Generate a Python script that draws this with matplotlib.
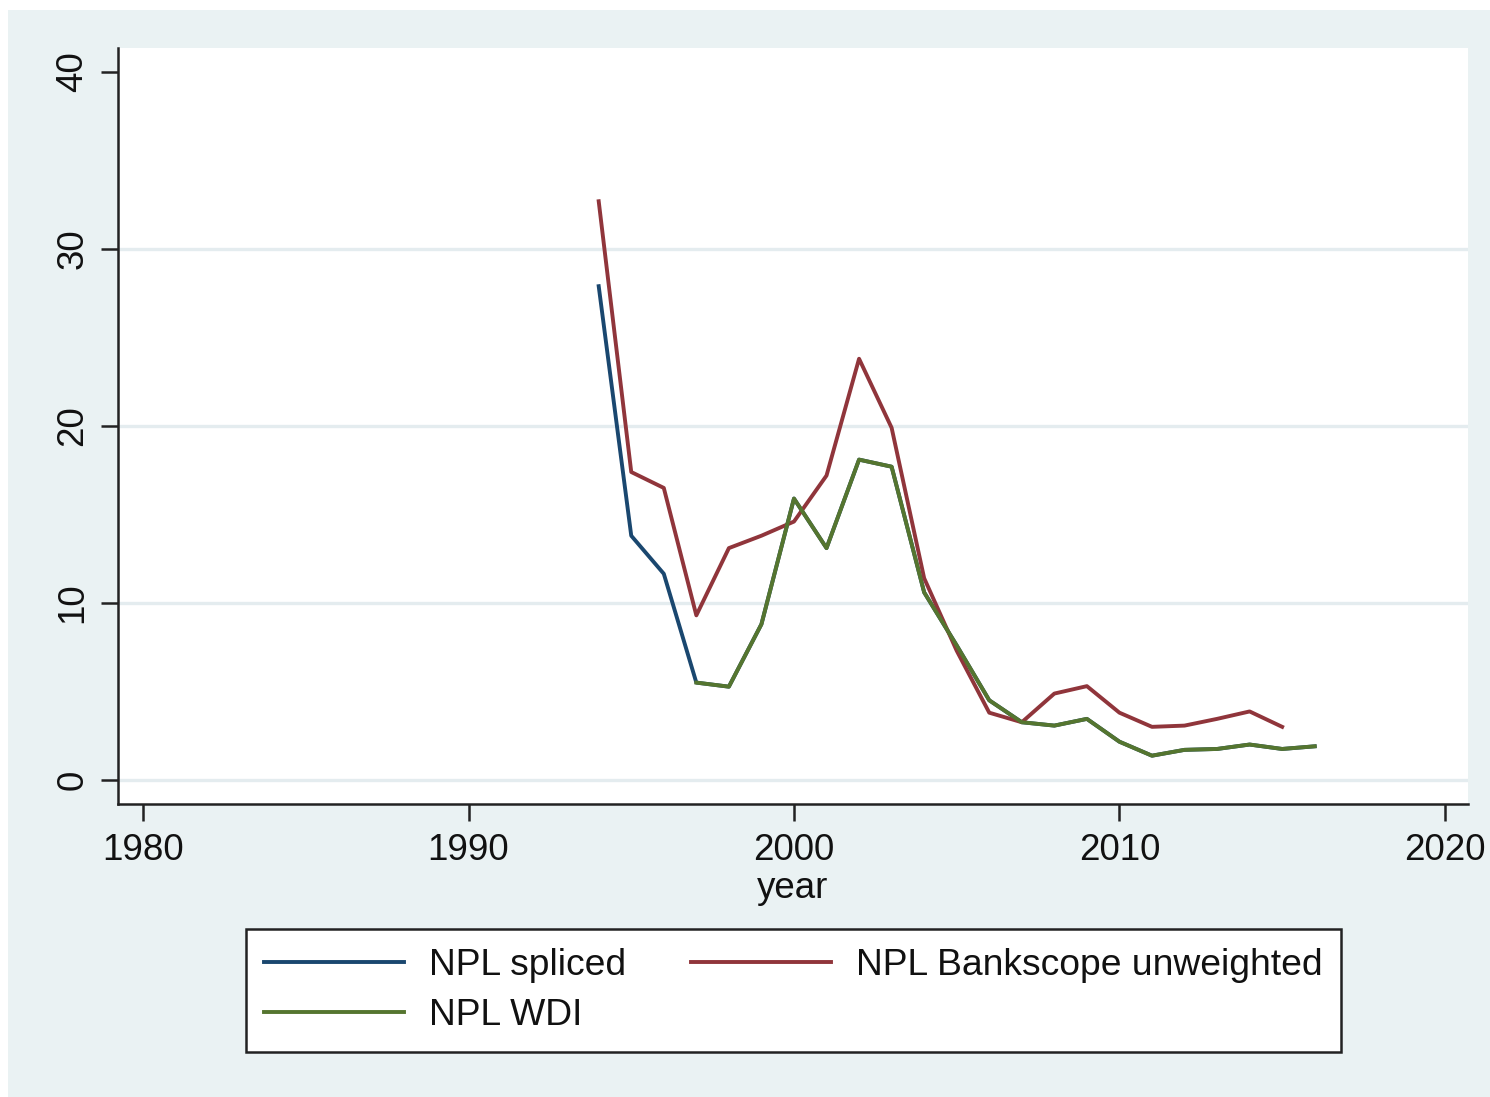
import matplotlib
matplotlib.use("Agg")
import matplotlib.pyplot as plt
from matplotlib.patches import Rectangle

plt.rcParams['font.family'] = ['Liberation Sans', 'DejaVu Sans']

# Non-performing loan ratios (%), by year
years_spliced = [1994, 1995, 1996, 1997, 1998, 1999, 2000, 2001, 2002, 2003, 2004,
                 2005, 2006, 2007, 2008, 2009, 2010, 2011, 2012, 2013, 2014, 2015, 2016]
npl_spliced = [27.9, 13.8, 11.65, 5.5, 5.27, 8.8, 15.9, 13.1, 18.1, 17.7, 10.6,
               7.6, 4.5, 3.26, 3.07, 3.45, 2.16, 1.37, 1.7, 1.75, 2.0, 1.75, 1.9]

years_bankscope = [1994, 1995, 1996, 1997, 1998, 1999, 2000, 2001, 2002, 2003, 2004,
                   2005, 2006, 2007, 2008, 2009, 2010, 2011, 2012, 2013, 2014, 2015]
npl_bankscope = [32.7, 17.4, 16.5, 9.3, 13.1, 13.8, 14.6, 17.2, 23.8, 19.9, 11.4,
                 7.3, 3.8, 3.26, 4.88, 5.3, 3.8, 3.0, 3.07, 3.45, 3.87, 3.0]

years_wdi = [1997, 1998, 1999, 2000, 2001, 2002, 2003, 2004, 2005, 2006, 2007,
             2008, 2009, 2010, 2011, 2012, 2013, 2014, 2015, 2016]
npl_wdi = [5.5, 5.27, 8.8, 15.9, 13.1, 18.1, 17.7, 10.6, 7.6, 4.5, 3.26,
           3.07, 3.45, 2.16, 1.37, 1.7, 1.75, 2.0, 1.75, 1.9]

x_ticks = [1980, 1990, 2000, 2010, 2020]
y_ticks = [0, 10, 20, 30, 40]
grid_levels = [0, 10, 20, 30]

NAVY = '#1a476f'
MAROON = '#90353b'
GREEN = '#55752f'
REGION = '#eaf2f3'
GRID = '#e4ecef'
INK = '#111111'
FS = 26.5

W, H = 1490, 1097
fig = plt.figure(figsize=(W / 100, H / 100), dpi=100, facecolor='white')

# graph region background
fig.patches.append(Rectangle((8 / W, 0), (W - 8) / W, (H - 10) / H,
                             transform=fig.transFigure, facecolor=REGION,
                             edgecolor='none', zorder=-10))

ax = fig.add_axes([118 / W, 293 / H, 1350 / W, 756 / H])
ax.set_facecolor('white')

for g in grid_levels:
    ax.axhline(g, color=GRID, lw=2.4, zorder=0)

l1, = ax.plot(years_spliced, npl_spliced, color=NAVY, lw=2.8, label='NPL spliced', zorder=2)
l2, = ax.plot(years_bankscope, npl_bankscope, color=MAROON, lw=2.8,
              label='NPL Bankscope unweighted', zorder=3)
l3, = ax.plot(years_wdi, npl_wdi, color=GREEN, lw=2.8, label='NPL WDI', zorder=4)

ax.set_xlim(1979.23, 2020.71)
ax.set_ylim(-1.36, 41.36)
ax.set_xticks(x_ticks)
ax.set_yticks(y_ticks)
ax.set_xticklabels([str(t) for t in x_ticks], fontsize=FS, color=INK)
ax.set_yticklabels([str(t) for t in y_ticks], fontsize=FS, color=INK,
                   rotation=90, va='center')
ax.tick_params(axis='both', direction='out', length=12, width=1.8, color='#222222')
ax.tick_params(axis='x', pad=9)
ax.tick_params(axis='y', pad=8)

for side in ('top', 'right'):
    ax.spines[side].set_visible(False)
for side in ('left', 'bottom'):
    ax.spines[side].set_linewidth(1.8)
    ax.spines[side].set_color('#222222')

ax.set_xlabel('year', fontsize=FS, color=INK, labelpad=2)

leg = fig.legend(handles=[l1, l3, l2], ncol=2, loc='center',
                 bbox_to_anchor=(793.5 / W, 1 - 990.5 / H),
                 fontsize=FS + 0.3, frameon=True, fancybox=False,
                 handlelength=3.75, handletextpad=0.68, columnspacing=1.75,
                 labelspacing=0.42, borderpad=0.5, borderaxespad=0)
frame = leg.get_frame()
frame.set_edgecolor('#222222')
frame.set_linewidth(1.8)
frame.set_facecolor('white')
frame.set_alpha(1)
for t in leg.get_texts():
    t.set_color(INK)

fig.savefig('out.png', dpi=100, facecolor='white')
